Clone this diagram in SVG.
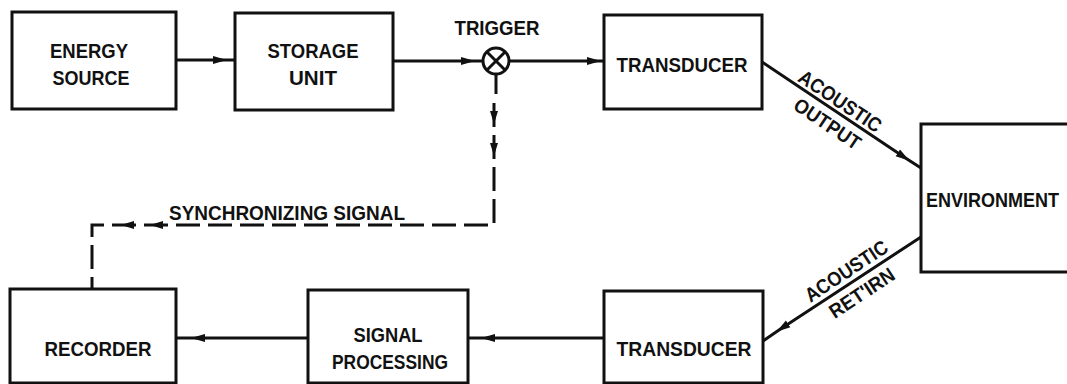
<svg xmlns="http://www.w3.org/2000/svg" width="1067" height="384" viewBox="0 0 1067 384">
<style>
.box{fill:none;stroke:#111;stroke-width:3}
.ln{fill:none;stroke:#111;stroke-width:3}
.dash{fill:none;stroke:#111;stroke-width:3;stroke-dasharray:24 8}
text{font-family:"Liberation Sans",Arial,sans-serif;font-weight:bold;fill:#111;font-size:21px}
.c{text-anchor:middle}
.d{font-size:20px;text-anchor:middle}
</style>
<defs>
<marker id="ah" viewBox="0 0 14 10" refX="11" refY="5" markerWidth="14" markerHeight="10" markerUnits="userSpaceOnUse" orient="auto">
<path d="M0,1 L14,5 L0,9 Z" fill="#111"/>
</marker>
<path id="tri" d="M-6,-4 L7,0 L-6,4 Z" fill="#111"/>
</defs>
<rect width="1067" height="384" fill="#fff"/>

<g id="connectors">
<path class="ln" d="M176,60 L224,60 L235,60" marker-mid="url(#ah)"/>
<path class="ln" d="M393,61 L472,61 L483,61" marker-mid="url(#ah)"/>
<path class="ln" d="M509,61 L598,61 L604,61" marker-mid="url(#ah)"/>
<path class="ln" d="M762,62 L907,159 L921,168" marker-mid="url(#ah)"/>
<path class="ln" d="M921,237 L779,330 L763,341" marker-mid="url(#ah)"/>
<path class="ln" d="M604,338 L484,338 L468,338" marker-mid="url(#ah)"/>
<path class="ln" d="M308,338 L194,338 L176,338" marker-mid="url(#ah)"/>
<path class="ln" d="M496,74 L496,94"/>
<path class="dash" d="M494,103 L494,225 L92,225 L92,289"/>
<use href="#tri" transform="translate(494,117) rotate(90)"/>
<use href="#tri" transform="translate(494,149) rotate(90)"/>
<use href="#tri" transform="translate(157,225) rotate(180)"/>
<use href="#tri" transform="translate(128,225) rotate(180)"/>
<text x="287" y="220" class="c" textLength="236" lengthAdjust="spacingAndGlyphs">SYNCHRONIZING SIGNAL</text>
<g transform="translate(835,110.7) rotate(33.7)">
<text class="d" x="-1" y="-4" textLength="95" lengthAdjust="spacingAndGlyphs">ACOUSTIC</text>
<text class="d" x="1" y="22" textLength="76" lengthAdjust="spacingAndGlyphs">OUTPUT</text>
</g>
<g transform="translate(850,284) rotate(-33.4)">
<text class="d" x="4" y="-6" textLength="95" lengthAdjust="spacingAndGlyphs">ACOUSTIC</text>
<text class="d" x="5" y="21" textLength="74" lengthAdjust="spacingAndGlyphs">RET'IRN</text>
</g>
</g>

<g id="energy-source">
<rect class="box" x="12" y="12" width="164" height="97"/>
<text class="c" x="89" y="58" textLength="78" lengthAdjust="spacingAndGlyphs">ENERGY</text>
<text class="c" x="91" y="85" textLength="77" lengthAdjust="spacingAndGlyphs">SOURCE</text>
</g>
<g id="storage-unit">
<rect class="box" x="235" y="13" width="158" height="97"/>
<text class="c" x="313" y="58" textLength="91" lengthAdjust="spacingAndGlyphs">STORAGE</text>
<text class="c" x="313" y="85" textLength="48" lengthAdjust="spacingAndGlyphs">UNIT</text>
</g>
<g id="trigger">
<circle cx="496" cy="61" r="13" fill="#fff" stroke="#111" stroke-width="3"/>
<path class="ln" d="M487,52 L505,70 M505,52 L487,70"/>
<text class="c" x="497" y="35" textLength="85" lengthAdjust="spacingAndGlyphs">TRIGGER</text>
</g>
<g id="transducer-top">
<rect class="box" x="604" y="15" width="158" height="94"/>
<text class="c" x="682" y="72" textLength="131" lengthAdjust="spacingAndGlyphs">TRANSDUCER</text>
</g>
<g id="environment">
<rect class="box" x="921" y="124" width="160" height="148"/>
<text x="926" y="207" font-size="20" textLength="133" lengthAdjust="spacingAndGlyphs">ENVIRONMENT</text>
</g>
<g id="transducer-bottom">
<rect class="box" x="604" y="291" width="159" height="92"/>
<text class="c" x="684" y="356" textLength="135" lengthAdjust="spacingAndGlyphs">TRANSDUCER</text>
</g>
<g id="signal-processing">
<rect class="box" x="308" y="290" width="160" height="93"/>
<text class="c" x="388" y="342" textLength="69" lengthAdjust="spacingAndGlyphs">SIGNAL</text>
<text class="c" x="390" y="369" textLength="116" lengthAdjust="spacingAndGlyphs">PROCESSING</text>
</g>
<g id="recorder">
<rect class="box" x="10" y="289" width="166" height="94"/>
<text class="c" x="98" y="356" textLength="107" lengthAdjust="spacingAndGlyphs">RECORDER</text>
</g>
</svg>
